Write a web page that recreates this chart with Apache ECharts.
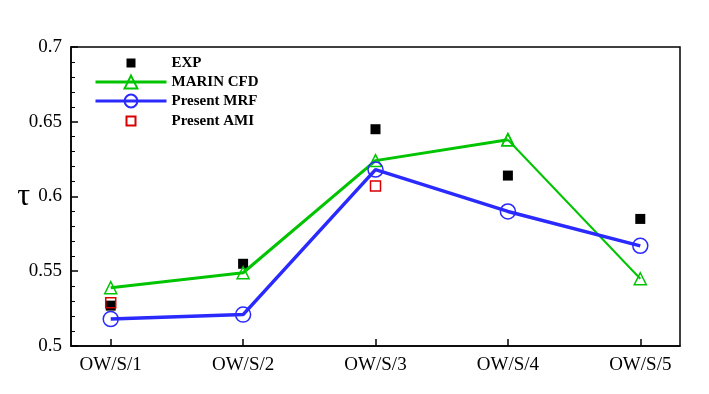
<!DOCTYPE html>
<html style="height: 100%">
<head>
<meta charset="utf-8">
<script src="https://cdn.jsdelivr.net/npm/echarts@6/dist/echarts.min.js"></script>
</head>
<body style="margin: 0">
<div id="container" style="width: 709px; height: 394px;"></div>
<script type="text/javascript">
// 工况
var cases = ['OW/S/1', 'OW/S/2', 'OW/S/3', 'OW/S/4', 'OW/S/5'];
var xPos = [1, 2, 3, 4, 5];
var yTicks = [0.5, 0.55, 0.6, 0.65, 0.7];
// τ 数值
var exp = [0.527, 0.555, 0.645, 0.614, 0.585];
var marin = [0.539, 0.549, 0.624, 0.638, 0.545];
var mrf = [0.518, 0.521, 0.618, 0.590, 0.567];
var amiX = [1, 3];
var ami = [0.529, 0.607];

function pairs(xs, ys) {
    var out = [];
    for (var i = 0; i < ys.length; i++) out.push([xs[i], ys[i]]);
    return out;
}

var serif = '"Liberation Serif", "Times New Roman", serif';
var green = '#00c400';
var blue = '#2a2aff';
var red = '#d80000';
// 图例方块：外加两个 M 点撑大包围盒，使方块缩小
var squareIcon = 'path://M0,0M16,16M3.5,3.5L12.5,3.5L12.5,12.5L3.5,12.5Z';

var dom = document.getElementById('container');
var myChart = echarts.init(dom);
var marinPts = pairs(xPos, marin);

var option = {
    animation: false,
    grid: {
        left: 71, right: 29, top: 47, bottom: 48,
        show: true, borderColor: '#000', borderWidth: 1.5
    },
    legend: {
        orient: 'vertical',
        left: 89, top: 50,
        itemWidth: 71, itemHeight: 16, itemGap: 3,
        symbolKeepAspect: true,
        lineStyle: { width: 3 },
        data: [
            { name: 'EXP', icon: squareIcon },
            { name: 'MARIN CFD' },
            { name: 'Present MRF' },
            { name: 'Present AMI', icon: squareIcon }
        ],
        textStyle: {
            fontFamily: serif, fontWeight: 'bold', fontSize: 15, lineHeight: 16, color: '#000',
            padding: [0, 0, 0, 0]
        }
    },
    xAxis: {
        type: 'value',
        min: 0.7, max: 5.3,
        axisLine: { lineStyle: { color: '#000', width: 1.5 } },
        axisTick: { inside: true, length: 7, customValues: xPos, lineStyle: { color: '#000', width: 1.5 } },
        axisLabel: {
            customValues: xPos,
            margin: 10,
            fontFamily: serif, fontSize: 19, color: '#000',
            formatter: function (v) { return cases[Math.round(v) - 1]; }
        },
        splitLine: { show: false }
    },
    yAxis: {
        type: 'value',
        min: 0.5, max: 0.7, interval: 0.05,
        name: 'τ',
        nameLocation: 'middle',
        nameRotate: 0,
        nameGap: 41,
        nameMoveOverlap: false,
        nameTextStyle: { fontFamily: serif, fontSize: 32, color: '#000', padding: [0, 0, 12, 0] },
        axisLine: { show: true, lineStyle: { color: '#000', width: 1.5 } },
        axisTick: { inside: true, length: 7, lineStyle: { color: '#000', width: 1.5 } },
        minorTick: { show: true, splitNumber: 5, length: 4, lineStyle: { color: '#000', width: 1 } },
        axisLabel: {
            margin: 9, fontFamily: serif, fontSize: 19, color: '#000',
            formatter: function (v) { return String(yTicks[Math.round((v - 0.5) / 0.05)]); }
        },
        splitLine: { show: false }
    },
    series: [
        {
            name: 'EXP', type: 'scatter',
            symbol: 'rect', symbolSize: 10,
            itemStyle: { color: '#000', opacity: 1 },
            data: pairs(xPos, exp), z: 2
        },
        {
            name: 'MARIN CFD', type: 'line',
            symbol: 'triangle', symbolSize: 12,
            itemStyle: { color: 'rgba(255,255,255,0)', borderColor: green, borderWidth: 1.5 },
            lineStyle: { color: green, width: 3 },
            data: marinPts.slice(0, 4), z: 3
        },
        {
            name: 'MARIN CFD tail', type: 'line',
            symbol: 'triangle', symbolSize: 12,
            itemStyle: { color: 'rgba(255,255,255,0)', borderColor: green, borderWidth: 1.5 },
            lineStyle: { color: green, width: 2 },
            data: marinPts.slice(3), z: 3
        },
        {
            name: 'Present MRF', type: 'line',
            symbol: 'circle', symbolSize: 15,
            itemStyle: { color: 'rgba(255,255,255,0)', borderColor: blue, borderWidth: 1.5 },
            lineStyle: { color: blue, width: 3.5 },
            data: pairs(xPos, mrf), z: 4
        },
        {
            name: 'Present AMI', type: 'scatter',
            symbol: 'rect', symbolSize: 10,
            itemStyle: { color: 'rgba(255,255,255,0)', borderColor: red, borderWidth: 1.5, opacity: 1 },
            data: pairs(amiX, ami), z: 5
        }
    ]
};

if (option && typeof option === 'object') {
    myChart.setOption(option, true);
}
</script>
</body>
</html>
